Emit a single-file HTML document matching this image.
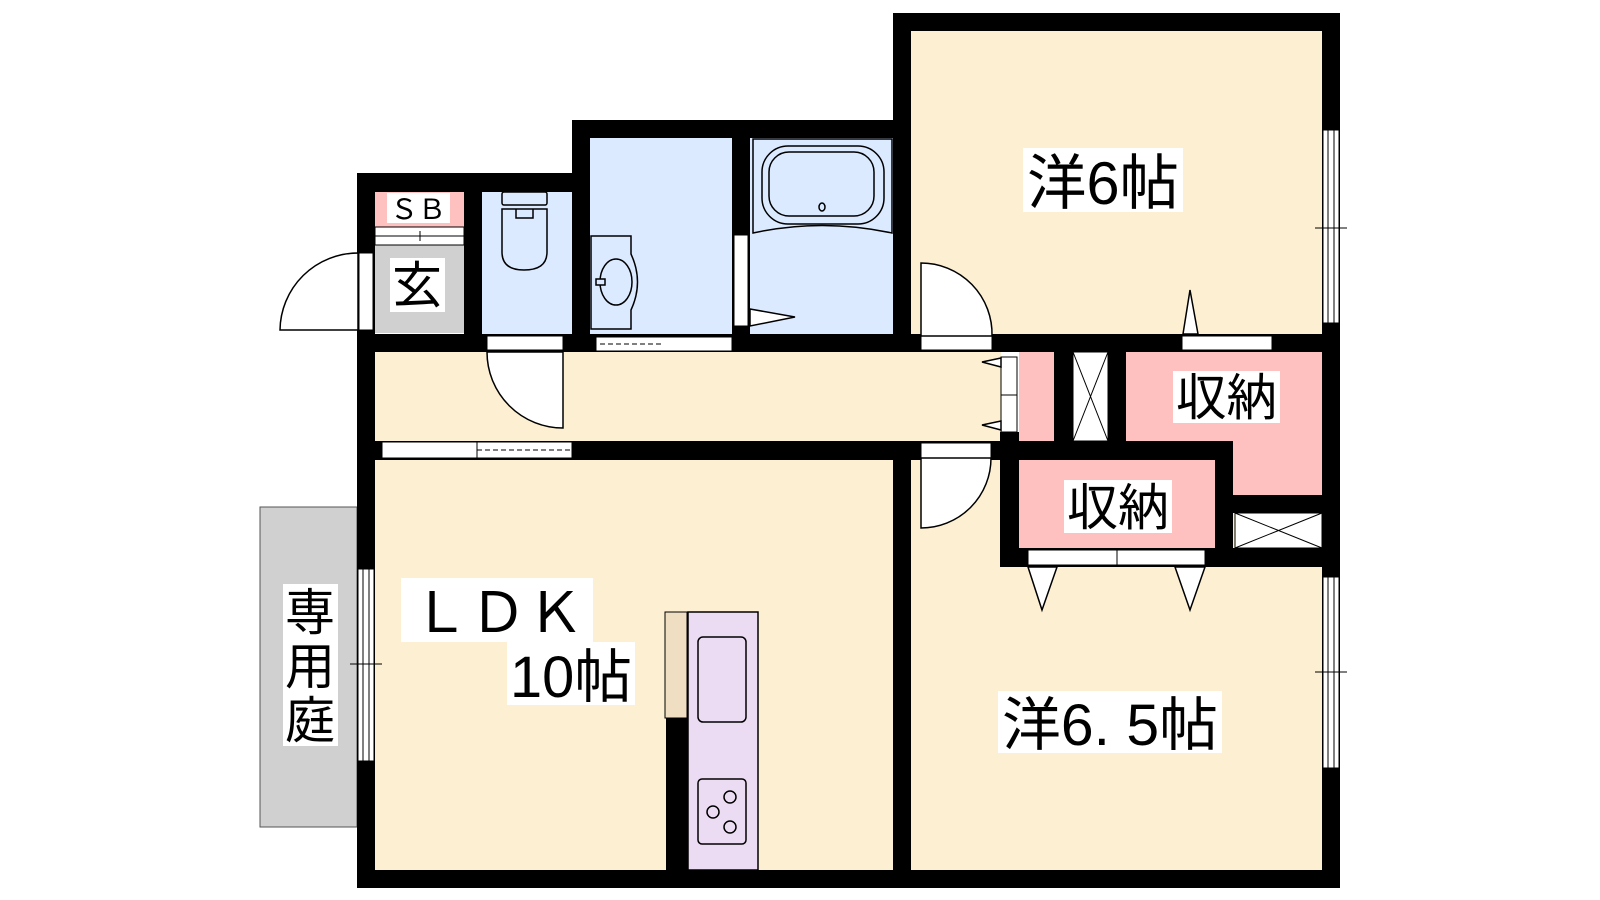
<!DOCTYPE html>
<html><head><meta charset="utf-8"><style>
html,body{margin:0;padding:0;background:#fff;}
svg{display:block;}
text{font-family:"Liberation Sans","Noto Sans CJK JP",sans-serif;fill:#000;}
</style></head><body>
<svg width="1600" height="900" viewBox="0 0 1600 900" xmlns="http://www.w3.org/2000/svg">
<!-- floors -->
<rect x="260" y="507" width="97" height="320" fill="#d0d0d0" stroke="#555" stroke-width="1"/>
<rect x="375" y="192" width="89" height="35" fill="#ffc0c0"/>
<rect x="375" y="245" width="89" height="88" fill="#d0d0d0"/>
<rect x="482" y="192" width="90" height="142" fill="#dbeaff"/>
<rect x="590" y="138" width="142" height="196" fill="#dbeaff"/>
<rect x="750" y="138" width="143" height="196" fill="#dbeaff"/>
<rect x="911" y="31" width="411" height="303" fill="#fdf0d2"/>
<rect x="375" y="352" width="626" height="89" fill="#fdf0d2"/>
<rect x="375" y="460" width="518" height="410" fill="#fdf0d2"/>
<rect x="911" y="460" width="411" height="410" fill="#fdf0d2"/>
<rect x="1019" y="352" width="35" height="89" fill="#ffc0c0"/>
<rect x="1126" y="352" width="196" height="89" fill="#ffc0c0"/>
<rect x="1233" y="441" width="89" height="54" fill="#ffc0c0"/>
<rect x="1019" y="460" width="196" height="88" fill="#ffc0c0"/>

<!-- walls -->
<g fill="#000">
<rect x="357" y="173" width="18" height="715"/>
<rect x="357" y="173" width="233" height="19"/>
<rect x="572" y="120" width="339" height="18"/>
<rect x="893" y="13" width="18" height="339"/>
<rect x="893" y="13" width="447" height="18"/>
<rect x="1322" y="13" width="18" height="875"/>
<rect x="357" y="870" width="983" height="18"/>
<rect x="464" y="173" width="18" height="179"/>
<rect x="572" y="120" width="18" height="232"/>
<rect x="732" y="120" width="18" height="232"/>
<rect x="357" y="334" width="983" height="18"/>
<rect x="357" y="441" width="662" height="19"/>
<rect x="893" y="441" width="18" height="447"/>
<rect x="1000" y="432" width="19" height="135"/>
<rect x="1054" y="334" width="19" height="126"/>
<rect x="1108" y="334" width="18" height="126"/>
<rect x="1000" y="441" width="233" height="19"/>
<rect x="1215" y="441" width="18" height="126"/>
<rect x="1215" y="495" width="125" height="18"/>
<rect x="1000" y="548" width="340" height="19"/>
<rect x="666" y="718" width="22" height="152"/>
</g>

<!-- white openings / frames -->
<g fill="#fff" stroke="#000" stroke-width="1">
<rect x="359" y="253" width="14" height="77"/>
<rect x="375" y="227" width="89" height="18"/>
<rect x="487" y="336" width="76" height="14"/>
<rect x="596" y="337" width="136" height="14"/>
<rect x="734" y="235" width="14" height="91"/>
<rect x="921" y="336" width="71" height="14"/>
<rect x="1182" y="336" width="90" height="14"/>
<rect x="1001" y="357" width="16" height="38"/>
<rect x="1001" y="395" width="16" height="37"/>
<rect x="1073" y="352" width="35" height="89"/>
<rect x="1235" y="513" width="87" height="35"/>
<rect x="382" y="442" width="95" height="16"/>
<rect x="477" y="442" width="95" height="16"/>
<rect x="921" y="443" width="70" height="15"/>
<rect x="1028" y="550" width="89" height="15"/>
<rect x="1117" y="550" width="88" height="15"/>
<rect x="1323" y="130" width="16" height="193"/>
<rect x="1323" y="577" width="16" height="191"/>
<rect x="358" y="569" width="16" height="192"/>
</g>
<g stroke="#000" stroke-width="1" fill="none">
<line x1="375" y1="236" x2="464" y2="236"/><line x1="420" y1="231" x2="420" y2="241"/>
<line x1="1328" y1="130" x2="1328" y2="323"/><line x1="1334" y1="130" x2="1334" y2="323"/>
<line x1="1315" y1="228" x2="1347" y2="228"/>
<line x1="1328" y1="577" x2="1328" y2="768"/><line x1="1334" y1="577" x2="1334" y2="768"/>
<line x1="1315" y1="672" x2="1347" y2="672"/>
<line x1="363" y1="569" x2="363" y2="761"/><line x1="369" y1="569" x2="369" y2="761"/>
<line x1="350" y1="664" x2="382" y2="664"/>
<line x1="1073" y1="352" x2="1108" y2="441"/><line x1="1108" y1="352" x2="1073" y2="441"/>
<line x1="1235" y1="513" x2="1322" y2="548"/><line x1="1322" y1="513" x2="1235" y2="548"/>
<line x1="600" y1="344" x2="662" y2="344" stroke-dasharray="5,3"/>
<line x1="477" y1="450" x2="570" y2="450" stroke-dasharray="5,3"/>
</g>

<!-- doors -->
<g fill="#fff" stroke="#000" stroke-width="1.5">
<path d="M358 330 L280 330 A78 78 0 0 1 358 253 Z"/>
<path d="M563 352 L563 428 A76 76 0 0 1 487 352 Z"/>
<path d="M921 336 L921 263 A71 71 0 0 1 992 336 Z"/>
<path d="M921 458 L921 528 A70 70 0 0 0 991 458 Z"/>
<path d="M750 309 L795 317 L750 326 Z"/>
<path d="M1183 334 L1190 290 L1198 334 Z"/>
<path d="M1028 567 L1042 610 L1057 567 Z"/>
<path d="M1175 567 L1190 610 L1205 567 Z"/>
<path d="M1001 358 L982 362 L1001 367 Z"/>
<path d="M1001 421 L982 425 L1001 430 Z"/>
</g>

<!-- toilet -->
<g fill="#dbeaff" stroke="#000" stroke-width="1.5">
<rect x="502" y="192" width="45" height="13" rx="2"/>
<path d="M502 209 L547 209 L547 252 Q547 270 524 270 Q502 270 502 252 Z"/>
<path d="M516 209 L516 218 L533 218 L533 209" fill="none"/>
<!-- sink -->
<path d="M591 236 L631 236 L631 254 Q644 282 631 310 L631 329 L591 329 Z"/>
<ellipse cx="616" cy="282" rx="16" ry="23"/>
<rect x="596" y="279" width="9" height="6"/>
<!-- bath -->
<path d="M753 139 L892 139 L892 233 Q822 218 753 233 Z"/>
<rect x="762" y="146" width="122" height="78" rx="26"/>
<rect x="769" y="152" width="105" height="64" rx="20"/>
<ellipse cx="822" cy="207" rx="3" ry="4"/>
</g>

<!-- kitchen -->
<rect x="665" y="612" width="22" height="106" fill="#efdec2" stroke="#000" stroke-width="1"/>
<rect x="688" y="612" width="70" height="258" fill="#ecdcf3" stroke="#000" stroke-width="1.5"/>
<rect x="698" y="637" width="48" height="85" rx="5" fill="#ecdcf3" stroke="#000" stroke-width="1.5"/>
<rect x="698" y="779" width="48" height="65" rx="4" fill="#ecdcf3" stroke="#000" stroke-width="1.5"/>
<g fill="none" stroke="#000" stroke-width="1.5">
<circle cx="730" cy="797" r="6"/><circle cx="713" cy="812" r="6"/><circle cx="730" cy="827" r="6"/>
</g>

<!-- labels -->
<rect x="387" y="193" width="63" height="30" fill="#fff"/>
<text x="418" y="219" font-size="28" text-anchor="middle" textLength="56" lengthAdjust="spacingAndGlyphs">ＳＢ</text>
<rect x="390" y="258" width="55" height="54" fill="#fff"/>
<text x="417" y="303" font-size="50" text-anchor="middle">玄</text>
<rect x="1023" y="148" width="160" height="64" fill="#fff"/>
<text x="1027" y="204" font-size="60" textLength="152" lengthAdjust="spacingAndGlyphs">洋6帖</text>
<rect x="1173" y="371" width="107" height="52" fill="#fff"/>
<text x="1176" y="415" font-size="50" textLength="101" lengthAdjust="spacingAndGlyphs">収納</text>
<rect x="1064" y="480" width="108" height="53" fill="#fff"/>
<text x="1067" y="525" font-size="50" textLength="102" lengthAdjust="spacingAndGlyphs">収納</text>
<rect x="998" y="691" width="224" height="62" fill="#fff"/>
<text x="1002" y="745" font-size="58" textLength="216" lengthAdjust="spacingAndGlyphs">洋6. 5帖</text>
<rect x="401" y="578" width="192" height="64" fill="#fff"/>
<text x="412" y="632" font-size="56" textLength="172" lengthAdjust="spacingAndGlyphs">ＬＤＫ</text>
<rect x="507" y="642" width="128" height="63" fill="#fff"/>
<text x="510" y="697" font-size="58" textLength="122" lengthAdjust="spacingAndGlyphs">10帖</text>
<rect x="283" y="584" width="55" height="162" fill="#fff"/>
<text x="310" y="630" font-size="50" text-anchor="middle">専</text>
<text x="310" y="684" font-size="50" text-anchor="middle">用</text>
<text x="310" y="738" font-size="50" text-anchor="middle">庭</text>
</svg>
</body></html>
